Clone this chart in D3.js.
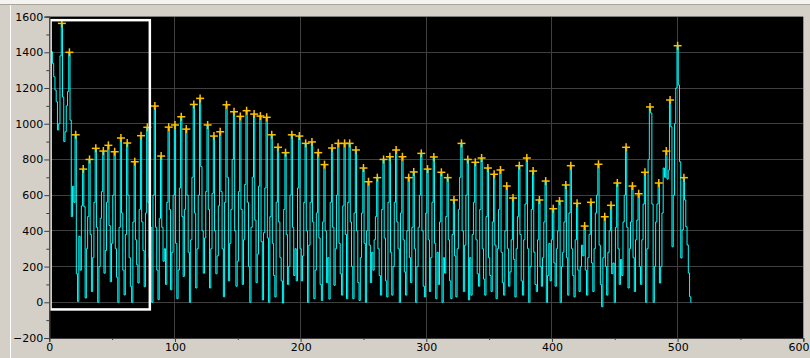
<!DOCTYPE html>
<html><head><meta charset="utf-8">
<script src="https://cdn.jsdelivr.net/npm/d3@7"></script>
<style>html,body{margin:0;padding:0;background:#d4d0c8;overflow:hidden}</style>
</head><body><svg id="chart" width="810" height="358"></svg>
<script>
// ---- data (sample index = x) ----
const signal = [
-40,1405,1403,1338,1263,1189,1123,965,1000,1380,
1562,1150,900,955,1100,1180,1400,1020,480,650,
560,938,160,5,370,180,540,746,535,24,
300,480,800,380,60,250,560,862,420,0,
200,470,620,847,163,290,560,879,430,115,
330,600,843,300,140,0,420,920,500,180,
41,380,892,600,250,90,0,450,787,350,
210,108,520,933,450,290,87,500,980,560,
250,420,0,600,1099,420,180,15,470,819,
420,230,300,100,560,981,520,70,280,600,
993,330,20,180,640,1039,480,145,520,970,
600,280,0,350,700,1108,500,80,300,600,
1142,760,400,163,360,620,993,520,80,300,
610,931,400,160,260,540,955,620,300,31,
560,1106,700,120,330,520,800,1067,400,90,
230,620,1041,520,100,350,660,1073,560,200,
0,420,700,1054,460,110,270,650,1043,340,
13,390,640,1036,360,0,480,938,330,150,
30,560,868,450,250,120,-4,520,838,380,
100,200,600,938,420,150,300,120,640,931,
300,120,260,560,890,400,0,320,560,898,
450,20,180,500,838,360,100,10,450,771,
400,110,250,18,560,864,420,95,300,600,
890,330,160,40,540,890,380,20,560,890,
450,200,20,500,853,400,110,10,250,500,
752,330,0,400,675,320,110,280,180,350,
480,698,300,150,40,520,800,360,120,30,
560,815,280,40,200,560,853,450,300,0,
500,815,350,170,40,400,698,250,110,420,
730,300,0,200,420,600,834,400,90,30,
500,746,350,60,250,560,814,330,20,280,
100,450,728,0,250,163,480,698,350,120,
20,380,573,260,30,300,520,700,890,400,
60,320,600,800,13,250,40,380,560,784,
350,160,90,520,808,300,130,40,480,752,
250,150,60,450,717,320,20,300,520,741,
280,110,40,400,651,300,90,170,350,584,
240,30,300,480,765,380,120,40,350,550,
808,300,0,200,520,735,280,100,60,350,
573,200,90,250,450,679,0,150,330,120,
350,524,220,90,300,400,567,0,200,280,
450,657,250,40,500,765,300,150,30,350,
554,180,60,200,320,260,427,180,40,250,
380,560,220,60,300,500,600,773,320,100,
-25,250,479,200,40,280,400,543,160,220,
0,420,668,300,100,240,150,450,600,868,
420,80,300,450,651,250,60,350,460,608,
200,100,350,550,728,0,300,800,1094,1060,
550,0,200,450,550,668,108,200,500,752,
700,847,690,740,1133,983,311,600,1000,1200,
1437,1217,787,248,405,698,573,423,321,164,
31,0
];
// sample indices of the detected peaks (marked with "+")
const peakIndex = [10,16,21,27,32,37,43,47,52,57,62,68,73,78,84,89,95,100,105,109,
115,120,126,131,136,141,147,152,157,163,168,173,177,182,188,193,199,204,209,214,
219,225,230,235,239,244,250,254,261,266,271,276,281,286,290,296,301,306,312,317,
322,328,333,339,344,349,354,359,364,369,374,380,385,390,395,401,406,411,415,420,
426,431,437,442,447,452,459,464,469,474,478,485,491,494,500,505];
const xTickValues = [0,100,200,300,400,500,600];
const xMinorTicks = [50,150,250,350,450,550];
const yTickValues = [-200,0,200,400,600,800,1000,1200,1400,1600];
const yMinorTicks = [-100,100,300,500,700,900,1100,1300,1500];
const selectionX = [1, 80];
const selectionY = [-40, 1580];

// ---- layout ----
const svg = d3.select("#chart");
const W = 810, H = 358;
const x = d3.scaleLinear().domain([0,600]).range([49.3,803.3]);
const y = d3.scaleLinear().domain([-200,1600]).range([338,16.6]);

svg.append("rect").attr("width",W).attr("height",H).attr("fill","#d4d0c8");
// window frame
svg.append("rect").attr("x",0).attr("y",0).attr("width",W).attr("height",4).attr("fill","#f4f3f0");
svg.append("line").attr("x1",0).attr("x2",W).attr("y1",4.5).attr("y2",4.5).attr("stroke","#a8a49c");
svg.append("line").attr("x1",10.5).attr("x2",10.5).attr("y1",5).attr("y2",H).attr("stroke","#ffffff");

// plot background
svg.append("rect").attr("x",x(0)).attr("y",y(1600)).attr("width",x(600)-x(0)).attr("height",y(-200)-y(1600)).attr("fill","#000");

// grid
const grid = svg.append("g").attr("stroke","#404040").attr("stroke-width",1).attr("shape-rendering","crispEdges");
grid.selectAll(".h").data(yTickValues.filter(v=>v>-200 && v<1600)).join("line")
  .attr("x1",x(0)).attr("x2",x(600)).attr("y1",d=>y(d)).attr("y2",d=>y(d));
grid.selectAll(".v").data(xTickValues.filter(v=>v>0 && v<600)).join("line")
  .attr("y1",y(-200)).attr("y2",y(1600)).attr("x1",d=>x(d)).attr("x2",d=>x(d));

// signal (sample-and-hold steps)
svg.append("clipPath").attr("id","pc").append("rect")
  .attr("x",x(0)-1).attr("y",y(1600)).attr("width",x(600)-x(0)+1).attr("height",y(-200)-y(1600));
const line = d3.line().x((d,i)=>x(i)).y(d=>y(d)).curve(d3.curveStep);
svg.append("path").datum(signal).attr("d",line).attr("fill","none")
  .attr("stroke","#00ffff").attr("stroke-width",1).attr("clip-path","url(#pc)");

// peak markers
const mk = svg.append("g").attr("stroke","#ffc000").attr("stroke-width",1.5);
peakIndex.forEach(i=>{
  const cx = x(i), cy = y(signal[i]);
  mk.append("line").attr("x1",cx-4).attr("x2",cx+4).attr("y1",cy).attr("y2",cy);
  mk.append("line").attr("x1",cx).attr("x2",cx).attr("y1",cy-4).attr("y2",cy+4);
});

// selection box
svg.append("rect").attr("x",x(selectionX[0])).attr("y",y(selectionY[1]))
  .attr("width",x(selectionX[1])-x(selectionX[0])).attr("height",y(selectionY[0])-y(selectionY[1]))
  .attr("fill","none").attr("stroke","#ffffff").attr("stroke-width",2.5);

// axes
const font = "DejaVu Sans, sans-serif";
const ax = svg.append("g").attr("transform",`translate(${x(0)},0)`)
  .call(d3.axisLeft(y).tickValues(yTickValues).tickSize(5).tickPadding(1).tickFormat(d3.format("d")));
const axm = svg.append("g").attr("transform",`translate(${x(0)},0)`)
  .call(d3.axisLeft(y).tickValues(yMinorTicks).tickSize(3).tickFormat(""));
const bx = svg.append("g").attr("transform",`translate(0,${y(-200)})`)
  .call(d3.axisBottom(x).tickValues(xTickValues).tickSize(4).tickPadding(1).tickFormat(d3.format("d")));
const bxm = svg.append("g").attr("transform",`translate(0,${y(-200)})`)
  .call(d3.axisBottom(x).tickValues(xMinorTicks).tickSize(2).tickFormat(""));
[ax,axm,bx,bxm].forEach(g=>{
  g.select(".domain").attr("stroke","#404040");
  g.selectAll(".tick line").attr("stroke","#404040");
  g.selectAll("text").attr("fill","#000").style("font-family",font).style("font-size","11px");
});
// keep the last x label inside the window
bx.selectAll(".tick text").filter(d=>d===600).attr("text-anchor","end").attr("x",W-x(600)-1);
</script></body></html>
